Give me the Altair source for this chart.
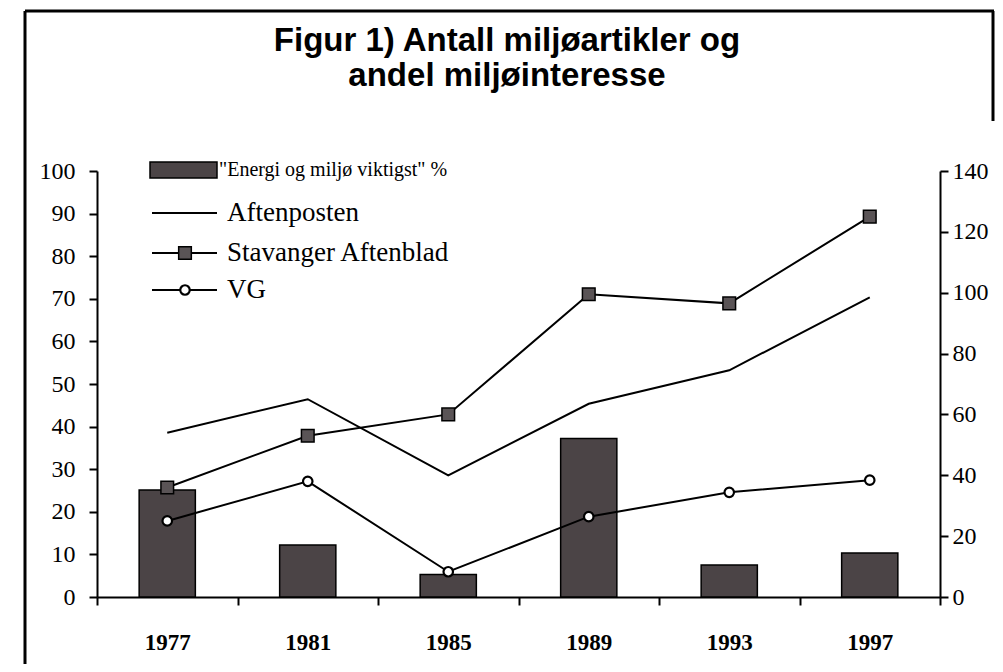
import altair as alt
import pandas as pd

# ---- data ----
years = ["1977", "1981", "1985", "1989", "1993", "1997"]
energi_pct = [25.1, 12.2, 5.3, 37.2, 7.5, 10.3]          # left axis (%)
aftenposten = [54, 65, 40, 63.5, 74.5, 98.5]             # right axis (antall)
stavanger = [36, 53, 60, 99.5, 96.5, 125]
vg = [25, 38, 8.3, 26.4, 34.4, 38.4]
left_ticks = list(range(0, 101, 10))
right_ticks = list(range(0, 141, 20))
title_lines = ["Figur 1) Antall miljøartikler og", "andel miljøinteresse"]
legend_labels = ['"Energi og miljø viktigst" %', "Aftenposten", "Stavanger Aftenblad", "VG"]

W, H = 843, 426
SERIF = "Liberation Serif"
SANS = "Liberation Sans"
BAR_COLOR = "#4b4446"

bar_df = pd.DataFrame({"year": years, "pct": energi_pct})
line_df = pd.DataFrame({
    "year": years * 3,
    "series": ["Aftenposten"] * 6 + ["Stavanger Aftenblad"] * 6 + ["VG"] * 6,
    "count": aftenposten + stavanger + vg,
})
one = pd.DataFrame({"k": [0]})

x_enc = alt.X(
    "year:O", sort=years,
    scale=alt.Scale(paddingInner=0, paddingOuter=0),
    axis=alt.Axis(title=None, labelAngle=0, tickBand="extent", labelFont=SERIF,
                  labelFontSize=23, labelFontWeight="bold", labelColor="black",
                  labelPadding=26, tickSize=8, tickWidth=2, tickColor="black",
                  domainColor="black", domainWidth=2),
)

bars = alt.Chart(bar_df).mark_bar(
    width=alt.RelativeBandSize(band=0.4), color=BAR_COLOR, stroke="black", strokeWidth=1.5
).encode(
    x=x_enc,
    y=alt.Y("pct:Q", scale=alt.Scale(domain=[0, 100], nice=False),
            axis=alt.Axis(orient="left", values=left_ticks, title=None, grid=False,
                          labelFont=SERIF, labelFontSize=24, labelColor="black",
                          labelPadding=14, tickSize=8, tickWidth=2, tickColor="black",
                          domainColor="black", domainWidth=2)),
)

y_right = alt.Y("count:Q", scale=alt.Scale(domain=[0, 140], nice=False),
                axis=alt.Axis(orient="right", values=right_ticks, title=None, grid=False,
                              labelFont=SERIF, labelFontSize=24, labelColor="black",
                              labelPadding=4, tickSize=8, tickWidth=2, tickColor="black",
                              domainColor="black", domainWidth=2))

lines = alt.Chart(line_df).mark_line(color="black", strokeWidth=2).encode(
    x=x_enc, y=y_right, detail="series:N")
squares = alt.Chart(line_df).transform_filter(
    alt.datum.series == "Stavanger Aftenblad"
).mark_point(shape="square", filled=True, size=160, fill="#5a5456", stroke="black",
             strokeWidth=1.5, opacity=1).encode(x=x_enc, y=y_right)
circles = alt.Chart(line_df).transform_filter(
    alt.datum.series == "VG"
).mark_point(shape="circle", filled=True, size=90, fill="white", stroke="black",
             strokeWidth=2.2, opacity=1).encode(x=x_enc, y=y_right)

series_layer = alt.layer(lines, squares, circles)

# ---- legend (decoration, plot-relative pixels) ----
leg = []
leg.append(alt.Chart(one).mark_rect(fill=BAR_COLOR, stroke="black", strokeWidth=1.5).encode(
    x=alt.value(53), x2=alt.value(120), y=alt.value(-9), y2=alt.value(7)))
row_y = [-1, 42, 82, 119]
for i, ry in enumerate(row_y[1:], start=1):
    leg.append(alt.Chart(one).mark_rule(color="black", strokeWidth=2).encode(
        x=alt.value(55), x2=alt.value(120), y=alt.value(ry)))
leg.append(alt.Chart(one).mark_point(shape="square", filled=True, size=160, fill="#5a5456",
                                     stroke="black", strokeWidth=1.5, opacity=1).encode(
    x=alt.value(88), y=alt.value(row_y[2])))
leg.append(alt.Chart(one).mark_point(shape="circle", filled=True, size=90, fill="white",
                                     stroke="black", strokeWidth=2.2, opacity=1).encode(
    x=alt.value(88), y=alt.value(row_y[3])))
for i, (lab, ry) in enumerate(zip(legend_labels, row_y)):
    leg.append(alt.Chart(pd.DataFrame({"t": [lab]})).mark_text(
        align="left", baseline="middle", font=SERIF, fontSize=20 if i == 0 else 27,
        color="black").encode(text="t:N", x=alt.value(122 if i == 0 else 130),
                              y=alt.value(ry)))

# ---- title ----
title_layer = alt.Chart(pd.DataFrame({"t": ["\n".join(title_lines)]})).mark_text(
    align="center", baseline="alphabetic", font=SANS, fontSize=33, fontWeight="bold",
    lineBreak="\n", lineHeight=35, color="black"
).encode(text="t:N", x=alt.value(410), y=alt.value(-120))

# ---- outer frame (top, left, right) ----
frame = [
    alt.Chart(one).mark_rule(color="black", strokeWidth=3).encode(
        x=alt.value(-72), x2=alt.value(897), y=alt.value(-160)),
    alt.Chart(one).mark_rule(color="black", strokeWidth=3).encode(
        x=alt.value(-72), y=alt.value(-160), y2=alt.value(600)),
    alt.Chart(one).mark_rule(color="black", strokeWidth=3).encode(
        x=alt.value(896), y=alt.value(-160), y2=alt.value(-50)),
]

chart = alt.layer(bars, series_layer, *leg, title_layer, *frame).resolve_scale(
    y="independent"
).properties(
    width=W, height=H,
    padding={"left": 89, "top": 163, "right": 55, "bottom": 67},
    autosize=alt.AutoSizeParams(type="none"),
).configure_view(stroke=None)

chart.save("out.html", embed_options={"renderer": "svg", "actions": False})
